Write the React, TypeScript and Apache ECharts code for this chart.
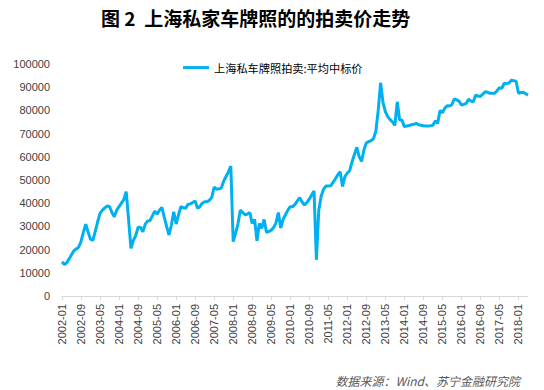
import React, { useEffect, useRef } from "react";
import * as echarts from "echarts";

const v2002 = [14700, 13600, 14300, 16000, 17800, 19500, 20300, 21000, 23500, 27500, 31000, 27500];
const v2003 = [24500, 24000, 28000, 32000, 35600, 37000, 38000, 38800, 38500, 36000, 34200, 37000];
const v2004 = [38500, 40000, 41500, 45000, 33000, 20500, 24000, 26000, 29600, 29600, 27700, 31000];
const v2005 = [32300, 32500, 34500, 36600, 35300, 37000, 38200, 34000, 30000, 26300, 30500, 36300];
const v2006 = [31000, 35000, 38500, 38000, 37800, 39500, 39700, 40300, 41000, 37800, 38500, 40000];
const v2007 = [40600, 40600, 41300, 42500, 47000, 46000, 46200, 46500, 49500, 51500, 53500, 56000];
const v2008 = [23400, 27000, 31000, 37000, 36000, 35000, 35300, 36000, 31300, 33000, 23800, 31300];
const v2009 = [29200, 33000, 27500, 27800, 28400, 29500, 31500, 36000, 29300, 33000, 35000, 37000];
const v2010 = [38500, 38500, 39500, 41000, 42400, 40500, 39200, 40300, 41700, 43500, 45300, 15600];
const v2011 = [37000, 43000, 46000, 47400, 47400, 47500, 49000, 50500, 52200, 53600, 47200, 51500];
const v2012 = [53000, 54000, 57900, 61000, 64100, 60000, 58000, 63000, 66000, 66500, 67000, 67800];
const v2013 = [71000, 80000, 91900, 83500, 79500, 77300, 76000, 75000, 73500, 83700, 75900, 75900];
const v2014 = [73000, 73300, 73500, 73800, 74000, 74400, 73800, 73600, 73400, 73300, 73300, 73400];
const v2015 = [73600, 75500, 74400, 80000, 79000, 81000, 82000, 81900, 82500, 85000, 84500, 84000];
const v2016 = [82300, 82600, 83000, 84800, 84000, 83700, 86600, 86200, 86000, 87000, 88000, 87800];
const v2017 = [87400, 87400, 87400, 88500, 89800, 89500, 91700, 91500, 91800, 93000, 92800, 92600];
const v2018 = [87400, 87700, 87800, 87200, 86600];

const values = [
  ...v2002, ...v2003, ...v2004, ...v2005, ...v2006, ...v2007, ...v2008, ...v2009,
  ...v2010, ...v2011, ...v2012, ...v2013, ...v2014, ...v2015, ...v2016, ...v2017, ...v2018,
];

const startYear = 2002;
const categories: string[] = values.map((_, i) => {
  const y = startYear + Math.floor(i / 12);
  const m = (i % 12) + 1;
  return `${y}-${m < 10 ? "0" + m : m}`;
});

const seriesName = "上海私车牌照拍卖:平均中标价";
const titleText = "图 2  上海私家车牌照的的拍卖价走势";
const sourceText = "数据来源：Wind、苏宁金融研究院";

const numFont = "'Liberation Sans', 'Noto Sans CJK SC', sans-serif";
const cjkFont = "'Noto Sans CJK SC', sans-serif";

export default function App() {
  const ref = useRef<HTMLDivElement>(null);
  useEffect(() => {
    document.body.style.margin = "0";
    if (!ref.current) return;
    const chart = echarts.init(ref.current, null, { renderer: "svg" });
    chart.setOption({
      animation: false,
      backgroundColor: "#ffffff",
      title: [
        {
          text: titleText,
          left: 96,
          top: 3,
          textStyle: { fontSize: 19, fontWeight: "bold", color: "#000000", fontFamily: cjkFont },
        },
        {
          text: sourceText,
          right: 19,
          top: 369,
          textStyle: {
            fontSize: 12,
            fontWeight: "normal",
            fontStyle: "italic",
            color: "#595959",
            fontFamily: cjkFont,
          },
        },
      ],
      legend: {
        left: 178,
        top: 57,
        icon: "rect",
        itemWidth: 26,
        itemHeight: 3,
        textStyle: { fontSize: 11.2, color: "#000000", fontFamily: cjkFont },
        data: [seriesName],
      },
      grid: { left: 62, right: 16, top: 64, bottom: 94 },
      xAxis: {
        type: "category",
        boundaryGap: false,
        data: categories,
        axisLine: { lineStyle: { color: "#D9D9D9", width: 1 } },
        axisTick: { show: true, interval: 7, length: 4, lineStyle: { color: "#D9D9D9" } },
        axisLabel: {
          interval: 7,
          rotate: 90,
          fontSize: 11,
          color: "#404040",
          margin: 8,
          fontFamily: numFont,
        },
        splitLine: { show: false },
      },
      yAxis: {
        type: "value",
        min: 0,
        max: 100000,
        interval: 10000,
        axisLine: { show: false },
        axisTick: { show: false },
        splitLine: { show: false },
        axisLabel: {
          fontSize: 11,
          color: "#404040",
          margin: 12,
          fontFamily: numFont,
          formatter: (v: number) => String(v),
        },
      },
      series: [
        {
          name: seriesName,
          type: "line",
          data: values,
          symbol: "none",
          lineStyle: { width: 3, color: "#00B0F0" },
          itemStyle: { color: "#00B0F0" },
        },
      ],
    });
    return () => chart.dispose();
  }, []);
  return <div ref={ref} style={{ width: 544, height: 390 }} />;
}
